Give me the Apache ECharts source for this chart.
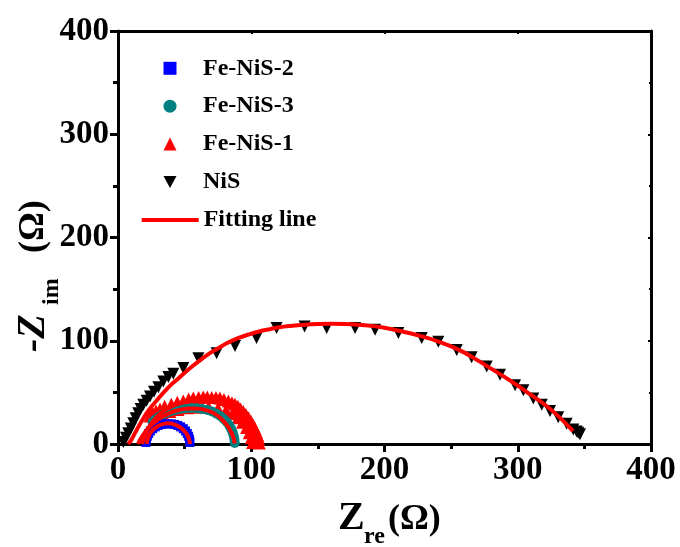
<!DOCTYPE html>
<html>
<head>
<meta charset="utf-8">
<script src="https://cdn.jsdelivr.net/npm/echarts@6/dist/echarts.min.js"></script>
<style>
  html, body { margin: 0; padding: 0; background: #fff; }
  #chart { width: 680px; height: 547px; }
</style>
</head>
<body>
<div id="chart"></div>
<script>
// Fe-NiS-2 (blue squares)
const fe2X = [21, 21.3, 22, 23, 24.3, 26, 28, 30.2, 32.6, 35, 37.5, 40, 42.4, 44.8, 47, 49, 50.7, 52, 53, 53.7, 54];
const fe2Y = [1.5, 4.5, 7.5, 10.2, 12.6, 14.8, 16.6, 18, 19, 19.5, 19.6, 19.5, 19, 18, 16.6, 14.8, 12.6, 10.2, 7.5, 4.5, 1.5];

// Fe-NiS-3 (teal circles)
const fe3X = [26, 28, 30.5, 33, 36, 39.5, 43, 47, 51, 55, 59, 63, 67, 70.5, 74, 77, 79.5, 81.8, 83.6, 85, 86.1, 86.9, 87.4, 87.6];
const fe3Y = [21, 23.5, 26, 28, 30, 31.8, 33, 34, 34.6, 34.8, 34.6, 34, 33, 31.5, 29.3, 26.8, 24, 21, 17.8, 14.4, 11, 7.5, 4, 1];

// Fe-NiS-1 (red triangles), outer and inner rows of points
const fe1X = [24, 26, 28.5, 31.5, 35, 40, 44.5, 49, 53, 56.5, 60.5, 64, 67, 70.3, 73.5, 76.5, 79.5, 82.8, 85.5, 87.8, 90, 92, 94, 96, 98, 99.8, 101.4, 102.8, 104, 105, 105.6, 106,
              30, 34, 39, 45, 52, 60, 68, 75, 81, 86, 90, 93.5, 96.5, 98.5, 100, 101];
const fe1Y = [27, 30, 32, 34, 36.5, 38.5, 40.5, 41.7, 43.5, 44.5, 45, 45.5, 45.5, 45, 45, 44.5, 43, 41.7, 40, 38.5, 36.5, 34, 31.5, 28.5, 25.5, 22, 18.5, 15, 11.5, 8, 4.5, 1,
              24, 28.5, 31.5, 33.5, 35, 35.5, 35.5, 34.5, 32.5, 29.5, 25.5, 21, 16, 11, 6, 1.5];

// NiS (black down triangles)
const nisX = [4, 6, 7.7, 9.6, 11.5, 13.3, 15.2, 17, 19, 21.5, 24, 27, 30.3, 34, 37.8, 41.5, 49, 60.3, 74, 87.8, 104, 119, 140, 156.6, 177.9, 192.9, 210.4, 227.9, 240.4, 254.2, 265.4, 276.7, 286.7, 298, 304.2, 311.7, 318, 324.2, 330.4, 336.7, 341.7, 344.2, 345.4, 346.7];
const nisY = [2, 6, 10.4, 15, 20, 25, 29.8, 34, 38, 42, 46, 50.5, 55, 60.5, 65, 68, 73.5, 83, 88, 95, 102.6, 112.3, 113.9, 112.3, 112.3, 110.7, 107.5, 102.6, 99, 91, 84, 75, 67, 57, 52, 44, 38, 32, 26, 19.5, 14, 12, 11, 9.5];

// fitting lines
const fit2X = [21.5, 22.5, 24.5, 27.5, 31, 35, 37.5, 40, 44, 47.5, 50.5, 52.5, 53.6, 54];
const fit2Y = [0, 6, 11, 15.2, 18.2, 19.7, 20, 19.7, 18, 15.4, 11.6, 7.5, 3.5, 0];
const fit3X = [15, 17, 19.5, 22.5, 26, 30, 34, 38, 42, 46, 50, 54, 58, 62, 66, 70, 73.5, 77, 80, 82.5, 84.5, 86, 87, 87.5];
const fit3Y = [0, 5, 10, 15, 19.5, 23.5, 27, 29.5, 31.5, 33, 34, 34.5, 34.5, 34, 32.8, 31, 28.5, 25, 21, 17, 12.5, 8.5, 4.5, 0.5];
const fit1X = [18, 20, 23, 27, 31, 36, 42, 48, 54, 60, 66, 72, 78, 84, 89, 93, 96.5, 99.5, 101.8, 103.5, 104.6, 105.2];
const fit1Y = [0, 8, 16, 23, 28.5, 33.5, 37.5, 40, 41.5, 42, 41.8, 41, 39.2, 36.5, 33, 29, 24.5, 19.5, 14.5, 9.5, 4.5, 0.5];
const fitNX = [7.7, 10, 14, 17.5, 21.5, 26, 30.5, 35, 40.3, 44, 50, 56.5, 63, 69, 75, 81.6, 90, 99, 106, 114, 121, 129, 140, 150, 160, 170, 180, 190, 200, 210, 220, 230, 240, 250, 260, 270, 280, 290, 300, 310, 320, 330, 337, 341.5];
const fitNY = [0, 4, 13.6, 21.5, 29.8, 37.5, 44.4, 51, 58, 62, 69, 76, 82.5, 88, 92.5, 97.5, 102.5, 106.5, 109, 111.2, 113, 114.3, 115.6, 116.3, 116.5, 116.3, 115.6, 114.4, 112.5, 110, 107, 103.5, 99.5, 94.5, 88.5, 81, 73, 65, 56.5, 47.5, 38.5, 27.5, 18.5, 12.5];

const markerNames = ['Fe-NiS-2', 'Fe-NiS-3', 'Fe-NiS-1', 'NiS'];
const lineName = 'Fitting line';

const FONT = "'Liberation Serif', 'Times New Roman', serif";
const DOWN_TRIANGLE = 'path://M0,0L12,0L6,11Z';

function pairs(xs, ys) {
  return xs.map((x, i) => [x, ys[i]]);
}

function fitSeries(xs, ys) {
  return {
    name: lineName,
    type: 'line',
    smooth: 0.4,
    symbol: 'none',
    showSymbol: false,
    z: 6,
    lineStyle: { color: '#ff0000', width: 4 },
    itemStyle: { color: '#ff0000' },
    data: pairs(xs, ys)
  };
}

// main axes get outward ticks and labels, the opposite ones only close the box
function axisCommon(pos, main) {
  return {
    type: 'value', min: 0, max: 400, interval: 100, position: pos,
    axisLine: { show: true, onZero: false, lineStyle: { color: '#000', width: 3 } },
    axisTick: { show: true, inside: !main, length: main ? 8 : 3, lineStyle: { color: '#000', width: main ? 3 : 2 } },
    minorTick: { show: true, splitNumber: 2, length: main ? 5 : 2, lineStyle: { color: '#000', width: main ? 3 : 2 } },
    splitLine: { show: false },
    minorSplitLine: { show: false }
  };
}

const chart = echarts.init(document.getElementById('chart'));

const labelStyle = { fontFamily: FONT, fontWeight: 'bold', fontSize: 33, color: '#000' };
const legendText = { fontFamily: FONT, fontWeight: 'bold', fontSize: 24, color: '#000', lineHeight: 24 };

const xMain = axisCommon('bottom', true);
xMain.axisLabel = Object.assign({ margin: 10 }, labelStyle);
const xTop = axisCommon('top', false);
xTop.axisLabel = { show: false };
const yMain = axisCommon('left', true);
yMain.axisLabel = Object.assign({ margin: 9 }, labelStyle);
const yRight = axisCommon('right', false);
yRight.axisLabel = { show: false };

const option = {
  animation: false,
  backgroundColor: '#fff',
  grid: { left: 118, right: 29, top: 31, bottom: 103, outerBoundsMode: 'none' },
  legend: [
    {
      left: 158.5, top: 51.3, orient: 'vertical',
      itemWidth: 13, itemHeight: 13, itemGap: 13.9,
      selectedMode: false,
      data: [
        { name: markerNames[0], icon: 'rect' },
        { name: markerNames[1], icon: 'circle' },
        { name: markerNames[2], icon: 'triangle' },
        { name: markerNames[3], icon: DOWN_TRIANGLE }
      ],
      textStyle: Object.assign({ padding: [0, 0, 0, 21.5] }, legendText)
    },
    {
      left: 136.7, top: 203, orient: 'vertical',
      itemWidth: 57, itemHeight: 4,
      selectedMode: false,
      data: [{ name: lineName, icon: 'rect' }],
      itemStyle: { color: '#ff0000' },
      textStyle: legendText
    }
  ],
  xAxis: [xMain, xTop],
  yAxis: [yMain, yRight],
  series: [
    {
      name: 'Fe-NiS-1', type: 'scatter', symbol: 'triangle', symbolSize: 13, z: 2,
      itemStyle: { color: '#ff0000', opacity: 1 },
      data: pairs(fe1X, fe1Y)
    },
    {
      name: 'Fe-NiS-3', type: 'scatter', symbol: 'circle', symbolSize: 10, z: 3,
      itemStyle: { color: '#008080', opacity: 1 },
      data: pairs(fe3X, fe3Y)
    },
    {
      name: 'Fe-NiS-2', type: 'scatter', symbol: 'rect', symbolSize: 9, z: 4,
      itemStyle: { color: '#0000ff', opacity: 1 },
      data: pairs(fe2X, fe2Y)
    },
    {
      name: 'NiS', type: 'scatter', symbol: 'triangle', symbolRotate: 180, symbolSize: 12, z: 4,
      itemStyle: { color: '#000000', opacity: 1 },
      data: pairs(nisX, nisY)
    },
    fitSeries(fitNX, fitNY),
    fitSeries(fit2X, fit2Y),
    fitSeries(fit3X, fit3Y),
    fitSeries(fit1X, fit1Y)
  ],
  graphic: [
    // x axis title: Z_re (Ω)
    { type: 'text', x: 338, y: 519, style: { text: 'Z', font: "bold 40px " + FONT, fill: '#000', verticalAlign: 'middle' } },
    { type: 'text', x: 364, y: 537, style: { text: 're', font: "bold 24px " + FONT, fill: '#000', verticalAlign: 'middle' } },
    { type: 'text', x: 388, y: 520, style: { text: '(Ω)', font: "bold 36px " + FONT, fill: '#000', verticalAlign: 'middle' } },
    // y axis title: -Z_im (Ω), rotated
    {
      type: 'group', x: 46, y: 352, rotation: Math.PI / 2,
      children: [
        { type: 'text', x: 0, y: -12, style: { text: '-Z', font: "italic bold 40px " + FONT, fill: '#000', verticalAlign: 'middle' } },
        { type: 'text', x: 47, y: 6, style: { text: 'im', font: "bold 24px " + FONT, fill: '#000', verticalAlign: 'middle' } },
        { type: 'text', x: 99, y: -12, style: { text: '(Ω)', font: "bold 36px " + FONT, fill: '#000', verticalAlign: 'middle' } }
      ]
    }
  ]
};

chart.setOption(option);
</script>
</body>
</html>
